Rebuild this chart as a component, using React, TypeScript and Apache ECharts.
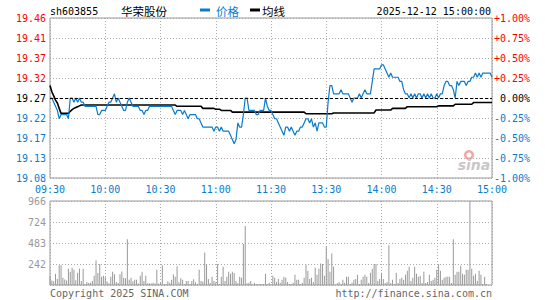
import React, { useEffect, useRef } from "react";
import * as echarts from "echarts";

const STOCK_CODE = "sh603855";
const STOCK_NAME = "华荣股份";
const DATE_TIME = "2025-12-12 15:00:00";
const PRE_CLOSE = 19.27;
const VOL_MAX = 966;

const X_TICK_LABELS = ["09:30", "10:00", "10:30", "11:00", "11:30", "13:30", "14:00", "14:30", "15:00"];
const PRICE_TICKS = ["19.08", "19.13", "19.17", "19.22", "19.27", "19.32", "19.37", "19.41", "19.46"];
const PCT_TICKS = ["-1.00%", "-0.75%", "-0.50%", "-0.25%", "0.00%", "+0.25%", "+0.50%", "+0.75%", "+1.00%"];
const VOL_TICKS = ["", "242", "483", "724", "966"];

// minute prices, 09:30 .. 11:30 then 13:01 .. 15:00
const PRICES = [
  19.27, 19.27, 19.26, 19.25, 19.24, 19.22, 19.23, 19.23, 19.23, 19.23,
  19.22, 19.27, 19.27, 19.26, 19.27, 19.26, 19.27, 19.26, 19.26, 19.25,
  19.25, 19.25, 19.25, 19.25, 19.25, 19.25, 19.23, 19.23, 19.24, 19.24,
  19.24, 19.25, 19.26, 19.26, 19.27, 19.28, 19.26, 19.27, 19.26, 19.25,
  19.24, 19.24, 19.26, 19.27, 19.26, 19.25, 19.25, 19.25, 19.25, 19.24,
  19.24, 19.23, 19.24, 19.24, 19.25, 19.25, 19.25, 19.25, 19.25, 19.25,
  19.25, 19.25, 19.25, 19.25, 19.25, 19.25, 19.25, 19.24, 19.23, 19.24,
  19.24, 19.24, 19.23, 19.24, 19.23, 19.22, 19.23, 19.23, 19.23, 19.23,
  19.22, 19.22, 19.21, 19.20, 19.20, 19.20, 19.20, 19.20, 19.20, 19.19,
  19.20, 19.20, 19.19, 19.20, 19.19, 19.19, 19.19, 19.19, 19.18, 19.17,
  19.16, 19.17, 19.21, 19.20, 19.20, 19.23, 19.27, 19.27, 19.24, 19.24,
  19.24, 19.24, 19.23, 19.23, 19.24, 19.24, 19.24, 19.27, 19.25, 19.24,
  19.24, 19.23, 19.22, 19.22, 19.21, 19.20, 19.19, 19.18, 19.20, 19.20,
  19.19, 19.20, 19.19, 19.18, 19.19, 19.19, 19.20, 19.20, 19.21, 19.22,
  19.22, 19.21, 19.22, 19.20, 19.21, 19.19, 19.21, 19.21, 19.21, 19.20,
  19.20, 19.26, 19.30, 19.30, 19.28, 19.28, 19.28, 19.28, 19.29, 19.28,
  19.28, 19.28, 19.28, 19.27, 19.26, 19.27, 19.27, 19.27, 19.28, 19.27,
  19.28, 19.29, 19.28, 19.28, 19.28, 19.31, 19.34, 19.34, 19.34, 19.34,
  19.35, 19.35, 19.34, 19.33, 19.32, 19.33, 19.32, 19.32, 19.32, 19.32,
  19.31, 19.31, 19.29, 19.28, 19.28, 19.27, 19.28, 19.27, 19.28, 19.27,
  19.28, 19.28, 19.27, 19.28, 19.27, 19.28, 19.27, 19.28, 19.27, 19.27,
  19.28, 19.27, 19.28, 19.28, 19.30, 19.31, 19.31, 19.30, 19.30, 19.29,
  19.27, 19.31, 19.30, 19.31, 19.31, 19.31, 19.30, 19.31, 19.31, 19.32,
  19.32, 19.33, 19.32, 19.33, 19.32, 19.33, 19.33, 19.33, 19.33, 19.33,
  19.32,
];

const AVG_PRICES = [
  19.300, 19.285, 19.275, 19.265, 19.258, 19.245, 19.233, 19.233, 19.233, 19.233,
  19.233, 19.238, 19.242, 19.245, 19.247, 19.249, 19.251, 19.253, 19.253, 19.253,
  19.253, 19.253, 19.253, 19.253, 19.253, 19.253, 19.253, 19.253, 19.253, 19.253,
  19.253, 19.253, 19.253, 19.253, 19.253, 19.253, 19.253, 19.253, 19.253, 19.253,
  19.253, 19.253, 19.253, 19.253, 19.253, 19.253, 19.253, 19.253, 19.253, 19.253,
  19.253, 19.253, 19.253, 19.253, 19.253, 19.253, 19.253, 19.253, 19.253, 19.253,
  19.253, 19.253, 19.253, 19.253, 19.253, 19.253, 19.253, 19.253, 19.253, 19.250,
  19.250, 19.250, 19.250, 19.250, 19.250, 19.250, 19.250, 19.250, 19.250, 19.250,
  19.250, 19.250, 19.250, 19.245, 19.245, 19.245, 19.245, 19.245, 19.245, 19.245,
  19.243, 19.243, 19.243, 19.240, 19.240, 19.240, 19.240, 19.240, 19.240, 19.236,
  19.236, 19.236, 19.236, 19.236, 19.236, 19.236, 19.236, 19.236, 19.236, 19.236,
  19.236, 19.236, 19.236, 19.236, 19.236, 19.236, 19.236, 19.236, 19.236, 19.236,
  19.236, 19.236, 19.236, 19.236, 19.236, 19.236, 19.236, 19.236, 19.236, 19.236,
  19.236, 19.236, 19.236, 19.236, 19.236, 19.236, 19.236, 19.236, 19.236, 19.232,
  19.232, 19.232, 19.232, 19.232, 19.232, 19.232, 19.232, 19.232, 19.232, 19.232,
  19.232, 19.232, 19.232, 19.232, 19.234, 19.234, 19.234, 19.234, 19.234, 19.234,
  19.234, 19.234, 19.234, 19.234, 19.234, 19.234, 19.234, 19.234, 19.234, 19.234,
  19.234, 19.234, 19.234, 19.234, 19.234, 19.234, 19.234, 19.241, 19.241, 19.241,
  19.241, 19.241, 19.241, 19.241, 19.241, 19.241, 19.245, 19.245, 19.245, 19.245,
  19.245, 19.245, 19.245, 19.245, 19.249, 19.249, 19.249, 19.249, 19.249, 19.249,
  19.249, 19.249, 19.249, 19.249, 19.249, 19.249, 19.249, 19.249, 19.249, 19.249,
  19.249, 19.251, 19.251, 19.251, 19.251, 19.251, 19.251, 19.251, 19.251, 19.251,
  19.255, 19.255, 19.255, 19.255, 19.255, 19.255, 19.255, 19.255, 19.255, 19.255,
  19.259, 19.259, 19.259, 19.259, 19.259, 19.259, 19.259, 19.259, 19.259, 19.259,
  19.259,
];

const VOLUMES = [
  94, 51, 43, 129, 70, 226, 226, 82, 62, 51,
  187, 152, 199, 175, 55, 140, 187, 47, 187, 12,
  35, 23, 27, 47, 105, 285, 137, 242, 94, 105,
  90, 39, 20, 94, 152, 125, 35, 23, 125, 156,
  82, 78, 527, 59, 82, 43, 59, 59, 16, 105,
  152, 47, 105, 20, 20, 16, 27, 16, 175, 16,
  27, 226, 12, 12, 43, 27, 59, 121, 94, 215,
  31, 78, 59, 12, 47, 47, 12, 47, 66, 31,
  12, 175, 47, 39, 374, 242, 70, 23, 94, 47,
  31, 238, 12, 94, 211, 47, 94, 152, 129, 152,
  137, 47, 23, 94, 82, 472, 679, 20, 27, 47,
  12, 27, 12, 12, 12, 12, 12, 129, 12, 27,
  8, 105, 82, 35, 70, 27, 59, 94, 82, 35,
  12, 12, 27, 117, 59, 59, 12, 27, 82, 234,
  164, 70, 82, 35, 199, 117, 187, 246, 242, 105,
  441, 296, 152, 363, 211, 4, 20, 35, 12, 59,
  27, 94, 94, 12, 27, 59, 70, 117, 12, 59,
  94, 117, 94, 23, 140, 187, 242, 242, 47, 70,
  140, 70, 23, 35, 456, 23, 59, 12, 140, 23,
  70, 82, 59, 117, 164, 211, 47, 82, 211, 129,
  94, 105, 23, 152, 23, 35, 117, 47, 59, 82,
  175, 242, 164, 59, 82, 94, 94, 94, 23, 527,
  117, 152, 152, 222, 129, 117, 175, 175, 966, 187,
  105, 129, 47, 164, 117, 12, 94, 12, 0, 0,
  0,
];

const MONO = "DejaVu Sans Mono";
const CJK = "Noto Sans CJK SC";
const BLUE = "#0a7ccc";
const RED = "#ff0000";
const GRID_LINE = { color: "#aaaaaa", type: [1, 2] as any, width: 1 };

const pct = (p: number) => ((p - PRE_CLOSE) / PRE_CLOSE) * 100;
const signColor = (v: any) => {
  const n = Number(v);
  if (Math.abs(n) < 1e-9) return "#000000";
  return n > 0 ? RED : BLUE;
};

export default function App() {
  const ref = useRef<HTMLDivElement>(null);
  useEffect(() => {
    if (!ref.current) return;
    const chart = echarts.init(ref.current, undefined, { renderer: "svg" });
    const option: any = {
      animation: false,
      backgroundColor: "#ffffff",
      grid: [
        { left: 50, top: 18, width: 442, height: 160, show: true, borderColor: "#999999", borderWidth: 1, backgroundColor: "transparent" },
        { left: 50, top: 201, width: 442, height: 84, show: true, borderColor: "#999999", borderWidth: 1, backgroundColor: "transparent" },
      ],
      xAxis: [
        {
          type: "value", gridIndex: 0, min: 0, max: 240, interval: 30,
          axisLine: { show: false }, axisTick: { show: false },
          splitLine: { show: true, lineStyle: GRID_LINE },
          axisLabel: {
            margin: 6, color: BLUE, fontSize: 10, fontFamily: MONO,
            formatter: (v: number) => X_TICK_LABELS[Math.round(v / 30)],
          },
        },
        {
          type: "value", gridIndex: 1, min: 0, max: 240, interval: 30,
          axisLine: { show: false }, axisTick: { show: false },
          splitLine: { show: true, lineStyle: GRID_LINE },
          axisLabel: { show: false },
        },
      ],
      yAxis: [
        {
          type: "value", gridIndex: 0, min: -1, max: 1, interval: 0.25, position: "left",
          axisLine: { show: false }, axisTick: { show: false },
          splitLine: { show: true, lineStyle: GRID_LINE },
          axisLabel: {
            margin: 4, fontSize: 10, fontFamily: MONO, color: signColor,
            formatter: (v: number) => PRICE_TICKS[Math.round((v + 1) / 0.25)],
          },
        },
        {
          type: "value", gridIndex: 0, min: -1, max: 1, interval: 0.25, position: "right",
          axisLine: { show: false }, axisTick: { show: false }, splitLine: { show: false },
          axisLabel: {
            margin: 38, align: "right", fontSize: 10, fontFamily: MONO, color: signColor,
            formatter: (v: number) => PCT_TICKS[Math.round((v + 1) / 0.25)],
          },
        },
        {
          type: "value", gridIndex: 1, min: 0, max: VOL_MAX, interval: VOL_MAX / 4, position: "left",
          axisLine: { show: false }, axisTick: { show: false },
          splitLine: { show: true, lineStyle: GRID_LINE },
          axisLabel: {
            margin: 4, fontSize: 10, fontFamily: MONO, color: "#999999",
            formatter: (v: number) => VOL_TICKS[Math.round(v / (VOL_MAX / 4))],
          },
        },
      ],
      series: [
        {
          name: "均线", type: "line", xAxisIndex: 0, yAxisIndex: 0,
          data: AVG_PRICES.map((p, i) => [i, pct(p)]),
          showSymbol: false, symbol: "none",
          lineStyle: { color: "#000000", width: 1.6 }, z: 3,
        },
        {
          name: "价格", type: "line", xAxisIndex: 0, yAxisIndex: 0,
          data: PRICES.map((p, i) => [i, pct(p)]),
          showSymbol: false, symbol: "none",
          lineStyle: { color: BLUE, width: 1.2 }, z: 4,
          markLine: {
            silent: true, symbol: ["none", "none"], label: { show: false },
            lineStyle: { color: "#000000", type: [3, 2], width: 1 },
            data: [{ yAxis: 0 }],
          },
        },
        {
          name: "成交量", type: "bar", xAxisIndex: 1, yAxisIndex: 2,
          data: VOLUMES.map((v, i) => [i, v]),
          barWidth: 1, itemStyle: { color: "#999999" },
        },
      ],
      graphic: [
        { type: "text", x: 50, y: 11, style: { text: STOCK_CODE, fontSize: 10, fontFamily: MONO, fill: "#000", align: "left", verticalAlign: "middle" } },
        { type: "text", x: 121, y: 11, style: { text: STOCK_NAME, fontSize: 11.5, fontFamily: CJK, fill: "#000", align: "left", verticalAlign: "middle" } },
        { type: "rect", shape: { x: 200, y: 8.5, width: 10, height: 3 }, style: { fill: BLUE } },
        { type: "text", x: 216, y: 11, style: { text: "价格", fontSize: 11.5, fontFamily: CJK, fill: BLUE, align: "left", verticalAlign: "middle" } },
        { type: "rect", shape: { x: 250, y: 8.5, width: 10, height: 3 }, style: { fill: "#000" } },
        { type: "text", x: 262, y: 11, style: { text: "均线", fontSize: 11.5, fontFamily: CJK, fill: "#000", align: "left", verticalAlign: "middle" } },
        { type: "text", x: 491, y: 11, style: { text: DATE_TIME, fontSize: 10, fontFamily: MONO, fill: "#000", align: "right", verticalAlign: "middle" } },
        { type: "text", x: 50, y: 293, style: { text: "Copyright 2025 SINA.COM", fontSize: 10, fontFamily: MONO, fill: "#666", align: "left", verticalAlign: "middle" } },
        { type: "text", x: 492, y: 293, style: { text: "http://finance.sina.com.cn", fontSize: 10, fontFamily: MONO, fill: "#666", align: "right", verticalAlign: "middle" } },
        { type: "ring", shape: { cx: 469, cy: 155, r: 5, r0: 2.5 }, style: { fill: "#f2a6a6" }, z: 0 },
        { type: "text", x: 474, y: 165, style: { text: "sina", fontSize: 14, fontStyle: "italic", fontWeight: "bold", fontFamily: "DejaVu Sans", fill: "#c8c8c8", align: "center", verticalAlign: "middle" }, z: 0 },
      ],
    };
    chart.setOption(option);
    return () => chart.dispose();
  }, []);
  return (
    <div
      ref={ref}
      style={{ position: "absolute", left: 0, top: 0, width: 545, height: 300, background: "#fff" }}
    />
  );
}
